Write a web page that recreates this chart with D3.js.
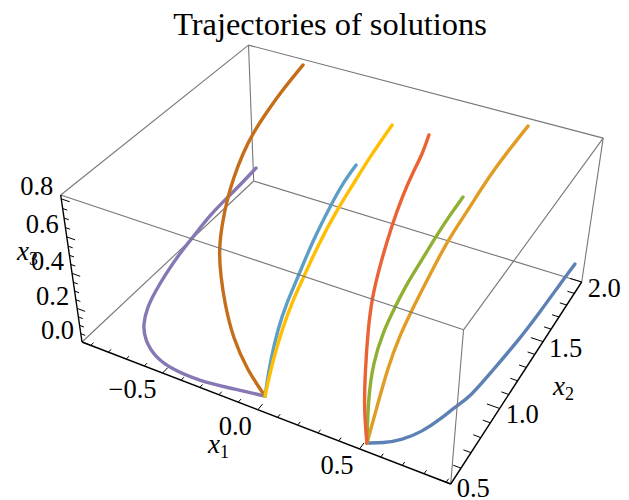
<!DOCTYPE html><html><head><meta charset="utf-8"><script src="https://cdnjs.cloudflare.com/ajax/libs/d3/7.8.5/d3.min.js"></script><style>html,body{margin:0;background:#fff}text{font-family:"Liberation Serif",serif;fill:#000}</style></head><body><svg id="c" width="629" height="500"></svg><script>
// ---- chart data ----
const titleText = "Trajectories of solutions";
const x1Domain = [-0.95, 0.92], x2Domain = [0.5, 2.0], x3Domain = [0, 0.82];
const x1MajorTicks = [-0.5, 0, 0.5];
const x2MajorTicks = [0.5, 1.0, 1.5, 2.0];
const x3MajorTicks = [0, 0.2, 0.4, 0.6, 0.8];
const x1MinorTicks = [-0.9,-0.8,-0.7,-0.6,-0.4,-0.3,-0.2,-0.1,0.1,0.2,0.3,0.4,0.6,0.7,0.8,0.9];
const x2MinorTicks = [0.6,0.7,0.8,0.9,1.1,1.2,1.3,1.4,1.6,1.7,1.8,1.9];
const x3MinorTicks = [0.05,0.1,0.15,0.25,0.3,0.35,0.45,0.5,0.55,0.65,0.7,0.75];

const blueX1 = [.511,.573,.638,.694,.736,.758,.792,.814,.839,.855,.866,.874];
const blueX2 = [.545,.572,.620,.696,.804,.886,.967,1.162,1.373,1.605,1.864,2.000];
const blueX3 = [.000,.005,.012,.019,.027,.032,.038,.050,.062,.074,.087,.093];
const orangeX1 = [.511,.485,.454,.442,.442,.445,.449,.453,.479,.501,.562];
const orangeX2 = [.545,.682,.838,.972,1.083,1.182,1.299,1.408,1.573,1.763,2.000];
const orangeX3 = [.000,.081,.171,.246,.306,.360,.421,.477,.563,.658,.780];
const greenX1 = [.511,.415,.343,.303,.286,.272,.271,.264,.263,.268];
const greenX2 = [.545,.735,.916,1.087,1.238,1.396,1.523,1.696,1.863,2.000];
const greenX3 = [.000,.046,.086,.121,.151,.181,.205,.236,.265,.289];
const redX1 = [.511,.436,.364,.284,.228,.185,.138,.110,.095,.090,.067];
const redX2 = [.545,.658,.800,.975,1.116,1.274,1.479,1.644,1.777,1.880,2.000];
const redX3 = [.000,.061,.129,.209,.268,.331,.408,.467,.513,.548,.588];
const purpleX1 = [-.017,-.175,-.312,-.453,-.571,-.675,-.743,-.795,-.828,-.857,-.888,-.901,-.925,-.926,-.926,-.932];
const purpleX2 = [.588,.551,.520,.517,.546,.616,.695,.802,.914,1.040,1.213,1.349,1.540,1.702,1.850,2.000];
const purpleX3 = [.000,.009,.017,.025,.030,.035,.039,.044,.048,.053,.060,.065,.072,.078,.084,.089];
const brownX1 = [-.017,-.134,-.255,-.360,-.449,-.517,-.568,-.612,-.642,-.669,-.680,-.673,-.665,-.634];
const brownX2 = [.588,.632,.712,.816,.922,1.018,1.127,1.244,1.347,1.483,1.594,1.715,1.828,2.000];
const brownX3 = [.000,.069,.145,.218,.284,.339,.393,.449,.496,.557,.605,.660,.710,.789];
const cyanX1 = [-.017,-.087,-.153,-.192,-.214,-.270,-.309,-.327,-.328];
const cyanX2 = [.588,.747,.929,1.076,1.197,1.447,1.714,1.860,2.000];
const cyanX3 = [.000,.039,.081,.113,.139,.189,.241,.267,.293];
const yellowX1 = [-.017,-.066,-.101,-.123,-.130,-.151,-.157,-.150,-.149,-.133];
const yellowX2 = [.588,.739,.888,1.016,1.101,1.296,1.499,1.674,1.781,2.000];
const yellowX3 = [.000,.072,.139,.195,.231,.312,.394,.463,.504,.586];

const seriesX1 = [blueX1,orangeX1,greenX1,redX1,purpleX1,brownX1,cyanX1,yellowX1];
const seriesX2 = [blueX2,orangeX2,greenX2,redX2,purpleX2,brownX2,cyanX2,yellowX2];
const seriesX3 = [blueX3,orangeX3,greenX3,redX3,purpleX3,brownX3,cyanX3,yellowX3];
const seriesColors = ["#5E81B5","#E19C24","#8FB032","#EB6235","#8778B3","#C56E1A","#5D9EC7","#FFBF00"];

// ---- perspective camera fitted to the box on the page ----
const E=[82,342,1],H=[450.7,484,1],G=[581.7,282,1],F=[253.7,181,1],A=[60.7,195,1],D=[461,328,1];
function det(m){return m[0][0]*(m[1][1]*m[2][2]-m[1][2]*m[2][1])-m[0][1]*(m[1][0]*m[2][2]-m[1][2]*m[2][0])+m[0][2]*(m[1][0]*m[2][1]-m[1][1]*m[2][0]);}
function solve3(c1,c2,c3,r){const mk=(a,b,d)=>[0,1,2].map(i=>[a[i],b[i],d[i]]);const dd=det(mk(c1,c2,c3));return [det(mk(r,c2,c3))/dd,det(mk(c1,r,c3))/dd,det(mk(c1,c2,r))/dd];}
const [al,be]=solve3(H,F,G.map(v=>-v),E);
const [ga]=solve3(A,D.map(v=>-v),[0,0,1],E.map((v,i)=>v-al*H[i]));
const P=[0,1,2].map(i=>[al*H[i]-E[i],be*F[i]-E[i],ga*A[i]-E[i],E[i]]);
const sx1=d3.scaleLinear().domain(x1Domain).range([0,1]);
const sx2=d3.scaleLinear().domain(x2Domain).range([0,1]);
const sx3=d3.scaleLinear().domain(x3Domain).range([0,1]);
function project(x1,x2,x3){const a=sx1(x1),b=sx2(x2),c=sx3(x3);const h=P.map(r=>r[0]*a+r[1]*b+r[2]*c+r[3]);return [h[0]/h[2],h[1]/h[2]];}

const svg=d3.select("#c");
const [x0,x9]=x1Domain,[y0,y9]=x2Domain,[z0,z9]=x3Domain;
const seg=(g,p,q,stroke,w)=>g.append("line").attr("x1",p[0]).attr("y1",p[1]).attr("x2",q[0]).attr("y2",q[1]).attr("stroke",stroke).attr("stroke-width",w);
const grey="#777", gw=1.1;

// back edges
const back=svg.append("g");
[[[x0,y0,z9],[x0,y9,z9]],[[x0,y9,z9],[x9,y9,z9]],[[x0,y9,z0],[x0,y9,z9]],[[x0,y0,z0],[x0,y9,z0]],[[x0,y9,z0],[x9,y9,z0]],[[x9,y9,z0],[x9,y9,z9]]]
 .forEach(([p,q])=>seg(back,project(...p),project(...q),grey,gw));

// trajectories
const line=d3.line().curve(d3.curveBasis);
const curves=svg.append("g").attr("fill","none").attr("stroke-width",3.4).attr("stroke-linecap","round").attr("stroke-linejoin","round");
seriesColors.forEach((col,k)=>{
  curves.append("path").attr("stroke",col).attr("d",line(seriesX1[k].map((v,i)=>project(v,seriesX2[k][i],seriesX3[k][i]))));
});

// front edges
const front=svg.append("g");
[[[x0,y0,z9],[x9,y0,z9]],[[x9,y0,z9],[x9,y9,z9]],[[x9,y0,z0],[x9,y0,z9]]]
 .forEach(([p,q])=>seg(front,project(...p),project(...q),grey,gw));

// axes
const ax=svg.append("g");
seg(ax,project(x0,y0,z0),project(x9,y0,z0),"#000",1.4);
seg(ax,project(x9,y0,z0),project(x9,y9,z0),"#000",1.4);
seg(ax,project(x0,y0,z0),project(x0,y0,z9),"#000",1.4);
const tw=1;
x1MinorTicks.forEach(t=>seg(ax,project(t,y0,z0),project(t,y0+0.022,z0),"#000",tw));
x1MajorTicks.forEach(t=>seg(ax,project(t,y0,z0),project(t,y0+0.04,z0),"#000",tw));
x2MinorTicks.forEach(t=>seg(ax,project(x9,t,z0),project(x9-0.035,t,z0),"#000",tw));
x2MajorTicks.forEach(t=>seg(ax,project(x9,t,z0),project(x9-0.06,t,z0),"#000",tw));
x3MinorTicks.forEach(t=>seg(ax,project(x0,y0,t),project(x0+0.025,y0,t),"#000",tw));
x3MajorTicks.forEach(t=>seg(ax,project(x0,y0,t),project(x0+0.045,y0,t),"#000",tw));

// labels
const fs=26.5, fmt=d3.format(".1f");
const lab=(p,dx,dy,s,anchor)=>svg.append("text").attr("x",p[0]+dx).attr("y",p[1]+dy).attr("text-anchor",anchor).attr("font-size",fs).text(s.replace("-","\u2212\u200A"));
x1MajorTicks.forEach(t=>lab(project(t,y0,z0),-6,25,fmt(t),"end"));
x2MajorTicks.forEach(t=>lab(project(x9,t,z0),6,t===y0?13:15,fmt(t),"start"));
x3MajorTicks.forEach(t=>lab(project(x0,y0,t),-8,-3.5,fmt(t),"end"));

const axisName=(x,y,sub)=>{const t=svg.append("text").attr("x",x).attr("y",y).attr("font-size",27);
  t.append("tspan").attr("font-style","italic").text("x");
  t.append("tspan").attr("dy",5).attr("font-size",18).text(sub);};
axisName(208,453,"1"); axisName(553,395,"2"); axisName(17,260,"3");

svg.append("text").attr("x",330).attr("y",35).attr("text-anchor","middle").attr("font-size",32.4).text(titleText);
</script></body></html>
